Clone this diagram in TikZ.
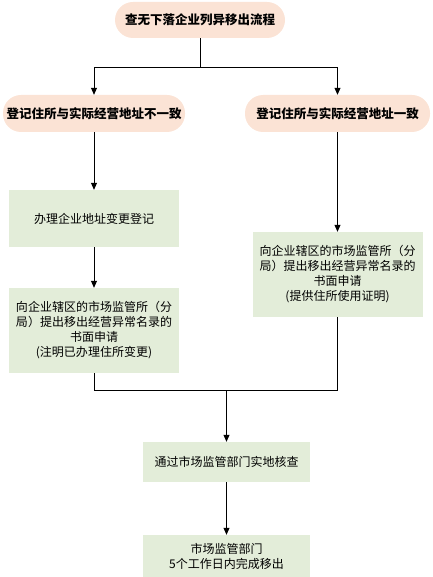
\documentclass[tikz,border=0pt]{standalone}
\usepackage{fontspec}
\setmainfont{Noto Sans CJK SC}
\usetikzlibrary{arrows.meta}
\definecolor{pillc}{HTML}{FBE3D5}
\definecolor{boxc}{HTML}{E3EDD9}
\tikzset{
  pill/.style={fill=pillc, rounded corners=18pt, inner sep=0pt, font=\bfseries\fontsize{12.5}{15}\selectfont, align=center},
  gbox/.style={fill=boxc, inner sep=0pt, font=\fontsize{12}{15}\selectfont, align=center},
  conn/.style={line width=0.8pt, black},
  arr/.style={conn, -{Triangle[length=7pt,width=6pt]}}
}
\begin{document}
\begin{tikzpicture}[x=1pt,y=-1pt]
\useasboundingbox (0,0) rectangle (432,577);
\node[pill, minimum width=170pt, minimum height=36pt] (top) at (200,20) {查无下落企业列异移出流程};
\node[pill, minimum width=182pt, minimum height=37pt] (pL) at (94,113.5) {登记住所与实际经营地址不一致};
\node[pill, minimum width=185pt, minimum height=37pt] (pR) at (337.5,113.5) {登记住所与实际经营地址一致};
\node[gbox, minimum width=170pt, minimum height=57pt] (A) at (94,218.5) {办理企业地址变更登记};
\node[gbox, minimum width=170pt, minimum height=85pt] (B) at (94,330.5) {向企业辖区的市场监管所（分\\局）提出移出经营异常名录的\\书面申请\\(注明已办理住所变更)};
\node[gbox, minimum width=170pt, minimum height=85pt] (C) at (337.5,274.5) {向企业辖区的市场监管所（分\\局）提出移出经营异常名录的\\书面申请\\(提供住所使用证明)};
\node[gbox, minimum width=167pt, minimum height=40pt] (D) at (226.5,462) {通过市场监管部门实地核查};
\node[gbox, minimum width=167pt, minimum height=42pt] (E) at (226.5,556) {市场监管部门\\5个工作日内完成移出};
\coordinate (j1) at (200,67);
\coordinate (j2) at (226.5,390);
\draw[conn] (top.south) -- (j1);
\draw[arr] (j1) -| (pL.north);
\draw[arr] (j1) -| (pR.north);
\draw[arr] (pL.south) -- (A.north);
\draw[arr] (A.south) -- (B.north);
\draw[arr] (pR.south) -- (C.north);
\draw[conn] (B.south) |- (j2);
\draw[conn] (C.south) |- (j2);
\draw[arr] (j2) -- (D.north);
\draw[arr] (D.south) -- (E.north);
\end{tikzpicture}
\end{document}
